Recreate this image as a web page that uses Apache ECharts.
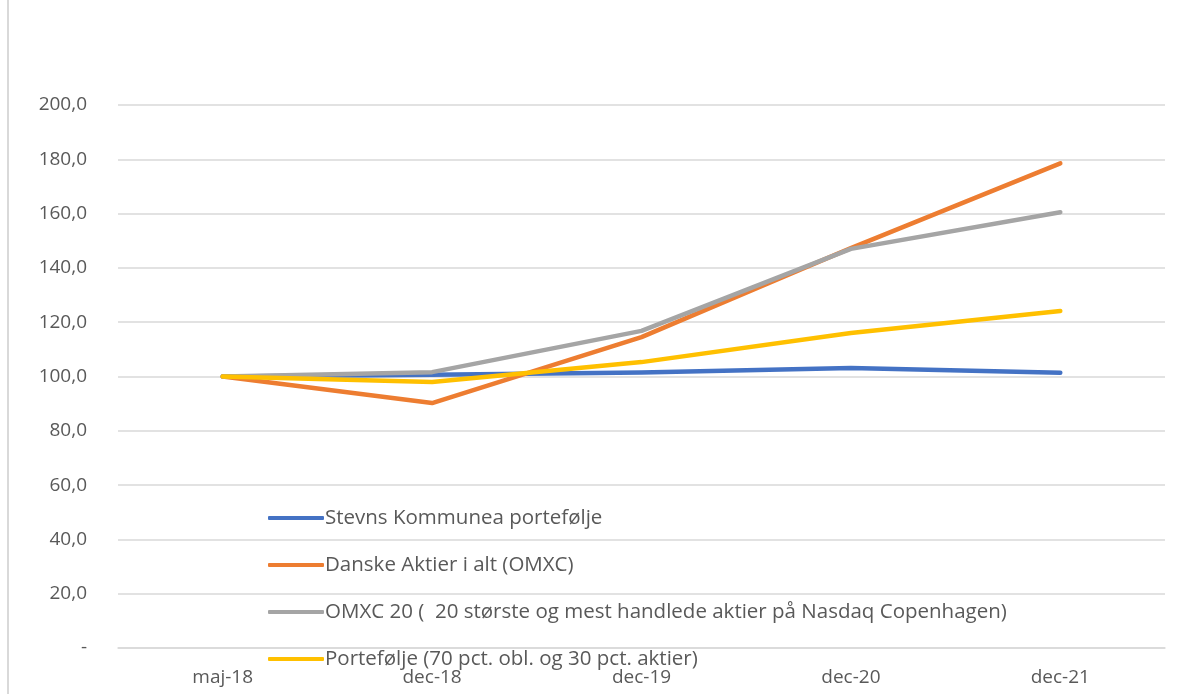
<!DOCTYPE html>
<html>
<head>
<meta charset="utf-8">
<script src="https://cdn.jsdelivr.net/npm/echarts@6/dist/echarts.min.js"></script>
<style>
html,body{margin:0;padding:0;background:#fff;}
#chart{width:1203px;height:694px;}
</style>
</head>
<body>
<div id="chart"></div>
<script>
const categories = ['maj-18', 'dec-18', 'dec-19', 'dec-20', 'dec-21'];
const seriesNames = [
  'Stevns Kommunea portefølje',
  'Danske Aktier i alt (OMXC)',
  'OMXC 20 (  20 største og mest handlede aktier på Nasdaq Copenhagen)',
  'Portefølje (70 pct. obl. og 30 pct. aktier)'
];
const stevns = [100.0, 100.6, 101.5, 103.1, 101.4];
const omxc = [100.0, 90.2, 114.5, 147.3, 178.5];
const omxc20 = [100.0, 101.6, 116.8, 147.0, 160.5];
const portefolje = [100.0, 98.0, 105.3, 116.0, 124.1];
const colors = ['#4472C4', '#ED7D31', '#A5A5A5', '#FFC000'];
const yTicks = { min: 0, max: 200, interval: 20 };

const font = 'Open Sans';
const chart = echarts.init(document.getElementById('chart'));
const data = [stevns, omxc, omxc20, portefolje];
chart.setOption({
  animation: false,
  backgroundColor: '#ffffff',
  grid: { left: 118, right: 38, top: 105, bottom: 46 },
  graphic: [{
    type: 'line', shape: { x1: 8, y1: 0, x2: 8, y2: 694 },
    style: { stroke: '#d9d9d9', lineWidth: 2 }
  }],
  legend: {
    orient: 'vertical', left: 268, top: 506, padding: 0,
    itemWidth: 56, itemHeight: 4, itemGap: 23,
    icon: 'roundRect',
    data: seriesNames,
    textStyle: { fontFamily: font, fontSize: 20.5, color: '#595959', lineHeight: 24, padding: [0, 0, 0, -4] }
  },
  xAxis: {
    type: 'category', data: categories, boundaryGap: true,
    axisLine: { show: true, lineStyle: { color: '#d9d9d9', width: 1.5 } },
    axisTick: { show: false },
    axisLabel: { fontFamily: font, fontSize: 19, color: '#595959', margin: 20 }
  },
  yAxis: {
    type: 'value', min: yTicks.min, max: yTicks.max, interval: yTicks.interval,
    axisLine: { show: false }, axisTick: { show: false },
    splitLine: { lineStyle: { color: '#d9d9d9', width: 1.5 } },
    axisLabel: {
      fontFamily: font, fontSize: 19, color: '#595959', margin: 31,
      formatter: v => v === 0 ? '-' : v.toFixed(1).replace('.', ',')
    }
  },
  series: seriesNames.map((n, i) => ({
    name: n, type: 'line', data: data[i], symbol: 'none',
    lineStyle: { width: 4.5, color: colors[i], cap: 'round', join: 'round' },
    itemStyle: { color: colors[i] }
  }))
});
</script>
</body>
</html>
